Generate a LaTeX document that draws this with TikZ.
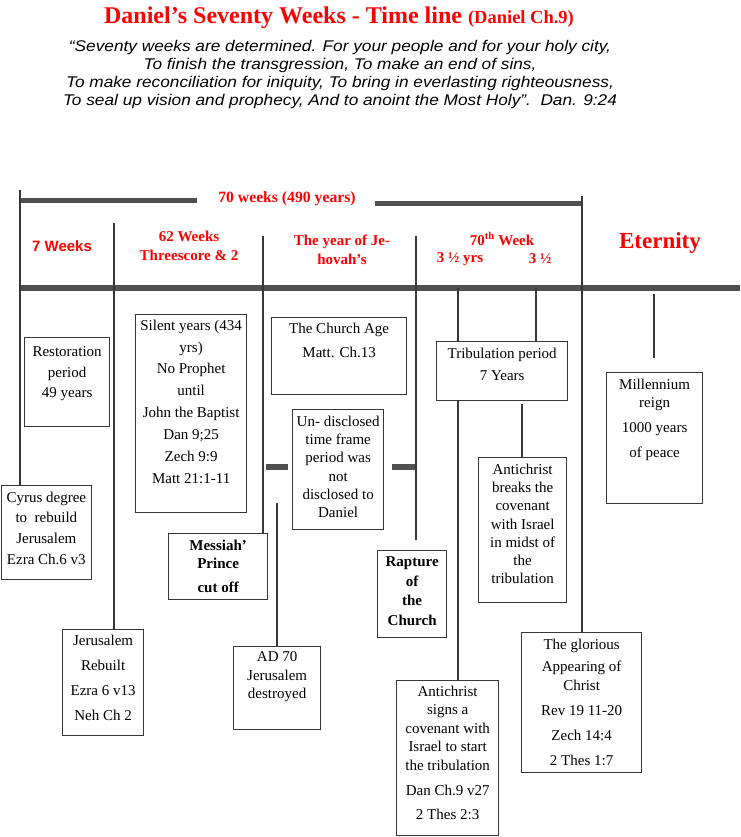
\documentclass[tikz,border=0pt]{standalone}
\usepackage{fontspec}
\setmainfont{Liberation Serif}
\newfontfamily\arialfont{Liberation Sans}
\usetikzlibrary{positioning}
\definecolor{barcol}{RGB}{80,80,80}
\definecolor{linecol}{RGB}{55,55,55}
\begin{document}
\begin{tikzpicture}[x=1pt,y=-1pt,
  box/.style={draw=linecol, line width=1.3pt, inner sep=0pt, anchor=north west},
  txt/.style={inner sep=0pt, align=center, font=\fontsize{15}{18.5}\selectfont},
  btxt/.style={txt, font=\fontsize{15}{18.5}\selectfont\bfseries},
  vline/.style={draw=linecol, line width=1.6pt},
  bar/.style={draw=barcol, line width=6.5pt},
  hdr/.style={text=red, inner sep=0pt, align=center, font=\fontsize{15}{19}\selectfont\bfseries}
]
\useasboundingbox (0,0) rectangle (740,837);

% title and quote
\node[inner sep=0pt, anchor=base, text=red] (title) at (339,23.5)
  {\fontsize{24}{28}\selectfont\bfseries Daniel’s Seventy Weeks - Time line {\fontsize{18.5}{21}\selectfont (Daniel Ch.9)}};
\node[inner sep=0pt, anchor=north, align=center, xscale=1.113, transform shape, font=\arialfont\itshape\fontsize{15.5}{18}\selectfont] (quote) at (340,40)
  {“Seventy weeks are determined. For your people and for your holy city,\\
   To finish the transgression, To make an end of sins,\\
   To make reconciliation for iniquity, To bring in everlasting righteousness,\\
   To seal up vision and prophecy, And to anoint the Most Holy”.\ \ Dan. 9:24};

% bars
\draw[bar, line width=5pt] (20,200.5) -- (197,200.5);
\draw[bar, line width=5pt] (375,203.5) -- (581,203.5);
\draw[bar] (20,288) -- (740,288);
\draw[bar, line width=6pt] (266,467) -- (288,467);
\draw[bar, line width=6pt] (392,467) -- (415,467);

% headers
\node[hdr, font=\fontsize{15.7}{18}\selectfont\bfseries] (h70) at (287,199) {70 weeks (490 years)};
\node[hdr, font=\arialfont\fontsize{15}{18}\selectfont\bfseries] (h7) at (62,246) {7 Weeks};
\node[hdr] (h62) at (189,246) {62 Weeks\\Threescore \& 2};
\node[hdr] (hyear) at (342,249.5) {The year of Je-\\hovah's};
\node[hdr] (h70th) at (502,239) {70\textsuperscript{th} Week};
\node[hdr] (h35a) at (460,259) {3 ½ yrs};
\node[hdr] (h35b) at (540,259) {3 ½};
\node[hdr, font=\fontsize{23}{26}\selectfont\bfseries] (heter) at (660,243) {Eternity};

% boxes
\node[box, minimum width=85pt, minimum height=89pt] (rest) at (24,337) {};
\node[box, minimum width=90pt, minimum height=94pt] (cyrus) at (0.7,485) {};
\node[box, minimum width=111pt, minimum height=198pt] (silent) at (135,314) {};
\node[box, minimum width=99pt, minimum height=66pt] (messiah) at (168,533) {};
\node[box, minimum width=135pt, minimum height=77pt] (church) at (271,317) {};
\node[box, minimum width=91pt, minimum height=120pt] (undisc) at (292,409) {};
\node[box, minimum width=69pt, minimum height=87pt] (rapture) at (377,550) {};
\node[box, minimum width=131pt, minimum height=59pt] (trib) at (436,341) {};
\node[box, minimum width=88pt, minimum height=145pt] (breaks) at (478,457) {};
\node[box, minimum width=96pt, minimum height=131pt] (mill) at (606,372) {};
\node[box, minimum width=81pt, minimum height=106pt] (jr) at (62,629) {};
\node[box, minimum width=87pt, minimum height=83pt] (ad70) at (233,646) {};
\node[box, minimum width=102pt, minimum height=155pt] (signs) at (396,680) {};
\node[box, minimum width=120pt, minimum height=140pt] (glor) at (521,632) {};

% box texts
\node[txt, font=\fontsize{15}{20.5}\selectfont, below=9.5pt of rest.north] (restT) {Restoration\\period\\49 years};
\node[txt, font=\fontsize{15}{20.7}\selectfont, below=6.5pt of cyrus.north] (cyrusT) {Cyrus degree\\to~~rebuild\\Jerusalem\\Ezra Ch.6 v3};
\node[txt, font=\fontsize{15}{21.9}\selectfont, below=5.5pt of silent.north] (silentT) {Silent years (434\\yrs)\\No Prophet\\until\\John the Baptist\\Dan 9;25\\Zech 9:9\\Matt 21:1-11};
\node[btxt, font=\fontsize{15}{18}\selectfont\bfseries, below=6.5pt of messiah.north] (messiahT) {Messiah’\\Prince\\[6pt]cut off};
\node[txt, font=\fontsize{15}{24}\selectfont, below=5.5pt of church.north] (churchT) {The Church Age\\Matt. Ch.13};
\node[txt, font=\fontsize{15}{18.3}\selectfont, below=6.5pt of undisc.north] (undiscT) {Un- disclosed\\time frame\\period was\\not\\disclosed to\\Daniel};
\node[btxt, font=\fontsize{15}{19.5}\selectfont\bfseries, below=6.5pt of rapture.north] (raptureT) {Rapture\\of\\the\\Church};
\node[txt, font=\fontsize{15}{22}\selectfont, below=6.5pt of trib.north] (tribT) {Tribulation period\\7 Years};
\node[txt, font=\fontsize{15}{18.3}\selectfont, below=6.5pt of breaks.north] (breaksT) {Antichrist\\breaks the\\covenant\\with Israel\\in midst of\\the\\tribulation};
\node[txt, font=\fontsize{15}{18}\selectfont, below=6.5pt of mill.north] (millT) {Millennium\\reign\\[7pt]1000 years\\[7pt]of peace};
\node[txt, font=\fontsize{15}{25}\selectfont, below=5.5pt of jr.north] (jrT) {Jerusalem\\Rebuilt\\Ezra 6 v13\\Neh Ch 2};
\node[txt, font=\fontsize{15}{18.5}\selectfont, below=5.5pt of ad70.north] (ad70T) {AD 70\\Jerusalem\\destroyed};
\node[txt, font=\fontsize{15}{18.5}\selectfont, below=5.5pt of signs.north] (signsT) {Antichrist\\signs a\\covenant with\\Israel to start\\the tribulation\\[6.5pt]Dan Ch.9 v27\\[5.5pt]2 Thes 2:3};
\node[txt, font=\fontsize{15}{19}\selectfont, below=6.5pt of glor.north] (glorT) {The glorious\\[3pt]Appearing of\\Christ\\[6pt]Rev 19 11-20\\[6pt]Zech 14:4\\[6pt]2 Thes 1:7};

% connector coordinates
\coordinate (c20) at (20,190);
\coordinate (c114) at (114,223);
\coordinate (c263) at (263,236);
\coordinate (c416) at (416,236);
\coordinate (c416e) at (416,540);
\coordinate (c458) at (458,288);
\coordinate (c536) at (536,288);
\coordinate (c522) at (522,404);
\coordinate (c582) at (582,196);
\coordinate (c654) at (654,294);
\coordinate (c654e) at (654,358);
\coordinate (c277) at (277,503);

% connectors
\draw[vline] (c20) -- (c20 |- cyrus.north);
\draw[vline] (c114) -- (c114 |- jr.north);
\draw[vline] (c263) -- (c263 |- messiah.north);
\draw[vline] (c416) -- (c416e);
\draw[vline] (c458) -- (c458 |- trib.north);
\draw[vline] (c536) -- (c536 |- trib.north);
\draw[vline] (c458 |- trib.south) -- (c458 |- signs.north);
\draw[vline] (c522) -- (c522 |- breaks.north);
\draw[vline] (c582) -- (c582 |- glor.north);
\draw[vline] (c654) -- (c654e);
\draw[vline] (c277) -- (c277 |- ad70.north);
\end{tikzpicture}
\end{document}
